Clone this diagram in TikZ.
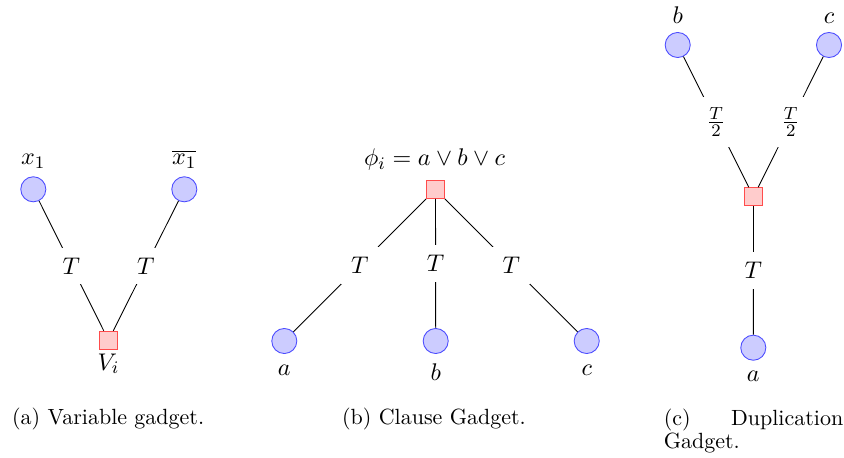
\documentclass[tikz,border=0pt]{standalone}
\newcommand{\lblfont}{\fontsize{10.95}{13.6}\selectfont}
\newcommand{\capfont}{\fontsize{10}{12}\selectfont}
\tikzset{
  var/.style={circle, draw=blue!70, fill=blue!20, minimum size=11.4pt, inner sep=0pt},
  gate/.style={rectangle, draw=red!70, fill=red!20, minimum size=8.2pt, inner sep=0pt},
  wt/.style={fill=white, inner sep=4.6pt, font=\lblfont},
  lab/.style={anchor=base, inner sep=0pt, font=\lblfont},
  captext/.style={anchor=base west, inner sep=0pt, font=\capfont},
  link/.style={line width=0.4pt}
}
\begin{document}
\begin{tikzpicture}[x=0.4545pt, y=-0.4545pt]
  \useasboundingbox (0,0) rectangle (844,458);

  % (a) variable gadget
  \node[var] (xa) at (33.3,189.3) {};
  \node[var] (xb) at (184.3,189.3) {};
  \node[gate] (vi) at (108.5,340.3) {};
  \node[lab] (xalab) at (33.3,165) {$x_1$};
  \node[lab] (xblab) at (184.3,165) {$\overline{x_1}$};
  \node[lab] (vilab) at (108.5,370) {$V_i$};
  \draw[link] (xa) -- node[wt] {$T$} (vi);
  \draw[link] (xb) -- node[wt] {$T$} (vi);
  \node[captext] (capa) at (11.7,424) {(a) Variable gadget.};

  % (b) clause gadget
  \node[gate] (phi) at (435.5,189.5) {};
  \node[lab] (philab) at (434.5,166) {$\phi_i = a \vee b \vee c$};
  \node[var] (ca) at (284.3,341) {};
  \node[var] (cb) at (435.7,341) {};
  \node[var] (cc) at (586.7,341) {};
  \node[lab] (calab) at (284.3,375) {$a$};
  \node[lab] (cblab) at (435.7,380.7) {$b$};
  \node[lab] (cclab) at (586.7,375) {$c$};
  \draw[link] (phi) -- node[wt] {$T$} (ca);
  \draw[link] (phi) -- node[wt] {$T$} (cb);
  \draw[link] (phi) -- node[wt] {$T$} (cc);
  \node[captext] (capb) at (341.7,424) {(b) Clause Gadget.};

  % (c) duplication gadget
  \node[var] (db) at (677.7,45) {};
  \node[var] (dc) at (829,45) {};
  \node[gate] (dup) at (753.5,196.7) {};
  \node[var] (da) at (753.3,347.7) {};
  \node[lab] (dblab) at (677.7,23.3) {$b$};
  \node[lab] (dclab) at (829,23.3) {$c$};
  \node[lab] (dalab) at (753.3,381.7) {$a$};
  \draw[link] (db) -- node[wt] {$\frac{T}{2}$} (dup);
  \draw[link] (dc) -- node[wt] {$\frac{T}{2}$} (dup);
  \draw[link] (dup) -- node[wt] {$T$} (da);
  \node[captext] (capc) at (663.3,425) {\makebox[81.6pt][s]{(c) Duplication}};
  \node[captext] (capc2) at (663.3,448) {Gadget.};
\end{tikzpicture}
\end{document}
